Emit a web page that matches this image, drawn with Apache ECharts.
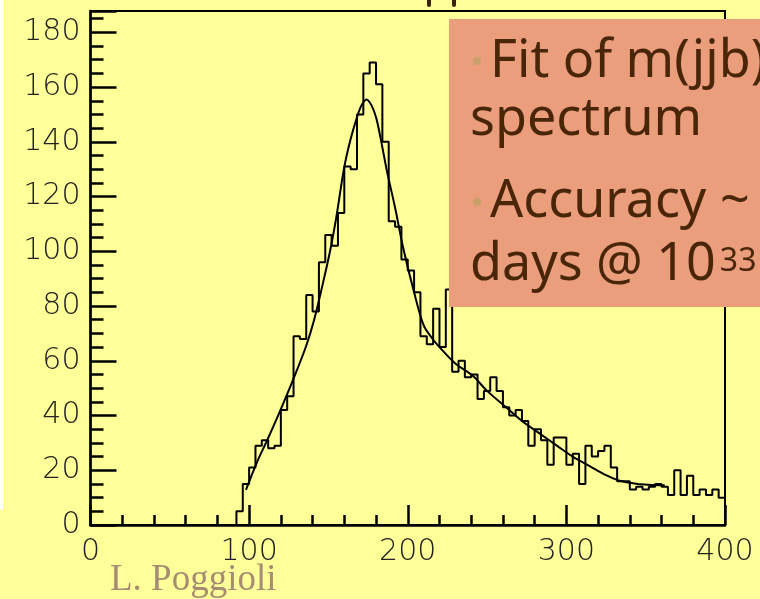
<!DOCTYPE html>
<html>
<head>
<meta charset="utf-8">
<script src="https://cdn.jsdelivr.net/npm/echarts@6/dist/echarts.min.js"></script>
<style>
  html, body { margin: 0; padding: 0; background: #FFFF99; }
  #chart { width: 760px; height: 599px; }
</style>
</head>
<body>
<div id="chart"></div>
<script>
// m(jjb) invariant-mass spectrum, 4 GeV bins from 0 to 400
const binStart = 0;
const binWidth = 4;
const counts = [
  0, 0, 0, 0, 0, 0, 0, 0, 0, 0,
  0, 0, 0, 0, 0, 0, 0, 0, 0, 0,
  0, 0, 0, 5, 15, 21, 29, 31, 28, 29,
  42, 47, 69, 68, 84, 78, 96, 106, 102, 114,
  131, 130, 150, 165, 169, 161, 140, 111, 109, 97,
  93, 85, 69, 66, 79, 65, 86, 56, 60, 54,
  55, 46, 49, 54, 49, 43, 40, 42, 38, 29,
  35, 31, 22, 32, 32, 22, 26, 15, 29, 25,
  27, 29, 21, 16, 16, 13, 14, 13, 14, 15,
  14, 11, 20, 11, 18, 11, 13, 11, 13, 10
];

// fitted curve, sampled along the mass axis
const fitX = [98, 105, 111, 119, 128, 136, 141, 146, 151, 155, 160, 164, 168, 171, 174, 177, 180, 183, 187, 192,
              197, 204, 210, 215, 220, 230, 241, 250, 262, 272, 283, 294, 304, 315, 325, 332, 340, 346, 356, 362];
const fitY = [12.8, 23, 30.5, 41, 53.5, 65.5, 75, 87, 100, 112.6, 130.8, 141, 149, 153.5, 155.5, 153.5, 149, 141, 129, 116,
              101.6, 85, 73, 68.5, 65, 59, 54.5, 49, 43, 38, 33.5, 29, 25, 21.4, 18.2, 16.5, 15.4, 14.9, 14.6, 14.5];

// axis settings
const xMin = 0, xMax = 400, xStep = 100;
const yMin = 0, yMax = 187.8, yStep = 20;

// text panel
const panelLines = ['Fit of m(jjb)', 'spectrum', 'Accuracy ~', 'days @ 10'];
const panelSup = '33';
const author = 'L. Poggioli';

// step outline: left edge of each bin, closed at the last right edge
const histPoints = counts.map((c, i) => [binStart + i * binWidth, c]);
histPoints.push([binStart + counts.length * binWidth, counts[counts.length - 1]]);
const fitPoints = fitX.map((x, i) => [x, fitY[i]]);

const ink = '#000';
const panelText = '#4A2608';
const panelFont = '"Noto Sans", sans-serif';

const ctx = document.createElement('canvas').getContext('2d');
ctx.font = '52px ' + panelFont;
const lastLineWidth = ctx.measureText(panelLines[3]).width;

const tickFont = { color: '#222', fontFamily: 'DejaVu Sans', fontWeight: 200, fontSize: 30 };

const chart = echarts.init(document.getElementById('chart'), null, { renderer: 'canvas' });
chart.setOption({
  backgroundColor: '#FFFF99',
  animation: false,
  grid: {
    left: 90.5, right: 35, top: 11, bottom: 74,
    show: true, borderColor: ink, borderWidth: 2, backgroundColor: 'transparent'
  },
  xAxis: {
    type: 'value', min: xMin, max: xMax, interval: xStep,
    axisLine: { lineStyle: { color: ink, width: 2.5 } },
    axisTick: { inside: true, length: 20, lineStyle: { color: ink, width: 2.5 } },
    minorTick: { show: true, splitNumber: 5, length: 10, lineStyle: { color: ink, width: 2.5 } },
    splitLine: { show: false },
    minorSplitLine: { show: false },
    axisLabel: Object.assign({ margin: 12 }, tickFont)
  },
  yAxis: {
    type: 'value', min: yMin, max: yMax, interval: yStep,
    axisLine: { lineStyle: { color: ink, width: 2.5 } },
    axisTick: { inside: true, length: 26, lineStyle: { color: ink, width: 2.5 } },
    minorTick: { show: true, splitNumber: 4, length: 13, lineStyle: { color: ink, width: 2.5 } },
    splitLine: { show: false },
    minorSplitLine: { show: false },
    axisLabel: Object.assign({ margin: 10, formatter: v => (v % yStep === 0 ? String(v) : '') }, tickFont)
  },
  series: [
    {
      type: 'line', data: histPoints, step: 'end', showSymbol: false,
      lineStyle: { color: ink, width: 2 }, z: 3
    },
    {
      type: 'line', data: fitPoints, smooth: 0.35, showSymbol: false,
      lineStyle: { color: ink, width: 2 }, z: 4
    }
  ],
  graphic: [
    { type: 'rect', z: 100, shape: { x: 0, y: 0, width: 3, height: 510 }, style: { fill: '#FFFFFF' } },
    { type: 'line', z: 100, shape: { x1: 429, y1: 0, x2: 429, y2: 5 }, style: { stroke: '#3D2008', lineWidth: 4, lineCap: 'round' } },
    { type: 'line', z: 100, shape: { x1: 454, y1: 0, x2: 454, y2: 5 }, style: { stroke: '#3D2008', lineWidth: 4, lineCap: 'round' } },
    { type: 'rect', z: 100, shape: { x: 449, y: 19, width: 320, height: 288 }, style: { fill: '#EB9E7C' } },
    { type: 'circle', z: 101, shape: { cx: 477, cy: 61, r: 4 }, style: { fill: '#C9A06C' } },
    { type: 'circle', z: 101, shape: { cx: 477, cy: 202, r: 4 }, style: { fill: '#C9A06C' } },
    { type: 'text', z: 101, x: 490, y: 62, style: { text: panelLines[0], font: '52px ' + panelFont, fill: panelText, verticalAlign: 'middle' } },
    { type: 'text', z: 101, x: 470, y: 120, style: { text: panelLines[1], font: '52px ' + panelFont, fill: panelText, verticalAlign: 'middle' } },
    { type: 'text', z: 101, x: 490, y: 202, style: { text: panelLines[2], font: '52px ' + panelFont, fill: panelText, verticalAlign: 'middle' } },
    { type: 'text', z: 101, x: 470, y: 265, style: { text: panelLines[3], font: '52px ' + panelFont, fill: panelText, verticalAlign: 'middle' } },
    { type: 'text', z: 101, x: 470 + lastLineWidth + 4, y: 262, style: { text: panelSup, font: '32px ' + panelFont, fill: panelText, verticalAlign: 'middle' } },
    { type: 'text', z: 101, x: 110, y: 580, style: { text: author, font: '37px "Liberation Serif", serif', fill: '#A68C72', verticalAlign: 'middle' } }
  ]
});
</script>
</body>
</html>
